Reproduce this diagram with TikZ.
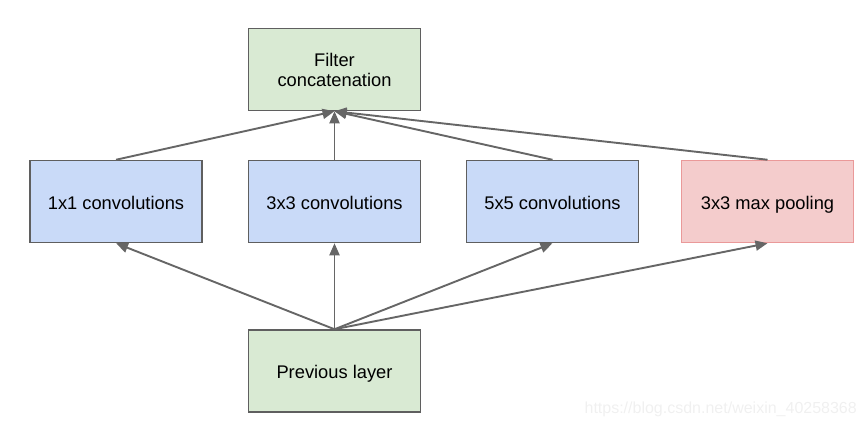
\documentclass[tikz,border=0pt]{standalone}
\usepackage{fontspec}
\setmainfont{Liberation Sans}
\usetikzlibrary{arrows.meta}
\definecolor{gfill}{HTML}{D9EAD3}
\definecolor{bfill}{HTML}{C9DAF8}
\definecolor{pfill}{HTML}{F4CCCC}
\definecolor{pline}{HTML}{EA9999}
\definecolor{bline}{HTML}{5F5F5F}
\definecolor{aline}{HTML}{666666}
\tikzset{
  boxbase/.style={draw=bline, line width=1.5pt, minimum width=172pt, minimum height=82pt, inner sep=0pt, font=\fontsize{18.3}{20}\selectfont, align=center, text height=15pt, text depth=0pt},
  gbox/.style={boxbase, fill=gfill},
  bbox/.style={boxbase, fill=bfill},
  pbox/.style={boxbase, fill=pfill, draw=pline},
  conn/.style={draw=aline, line width=1.9pt, -{Triangle[length=12pt,width=10pt]}}
}
\begin{document}
\begin{tikzpicture}[x=1pt,y=-1pt]
\useasboundingbox (0,0) rectangle (867,426);
\node[gbox, text height=34.5pt, text depth=0pt] (filt) at (334.5,69.5) {Filter\\concatenation};
\node[bbox] (c1) at (116,201.5) {1x1 convolutions};
\node[bbox] (c3) at (334.5,201.5) {3x3 convolutions};
\node[bbox] (c5) at (552.5,201.5) {5x5 convolutions};
\node[pbox] (mp) at (767.5,201.5) {3x3 max pooling};
\node[gbox] (prev) at (334.5,371) {Previous layer};
\foreach \n in {c1,c3,c5,mp} {
  \draw[conn] (\n.north) -- (filt.south);
  \draw[conn] (prev.north) -- (\n.south);
}
\node[anchor=base east, text=black!6, font=\fontsize{16}{18}\selectfont, inner sep=0pt] (wm) at (857,413) {https://blog.csdn.net/weixin\_40258368};
\end{tikzpicture}
\end{document}
